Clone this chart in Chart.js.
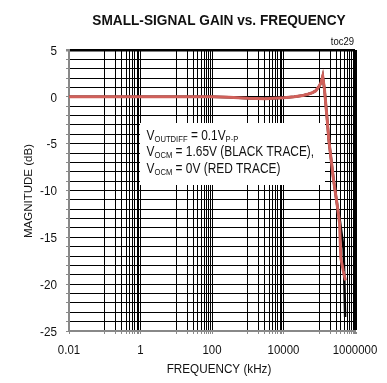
<!DOCTYPE html>
<html>
<head>
<meta charset="utf-8">
<script src="https://cdn.jsdelivr.net/npm/chart.js@4.4.1/dist/chart.umd.min.js"></script>
<style>
  html, body { margin: 0; padding: 0; background: #fff; }
  canvas { display: block; }
</style>
</head>
<body>
<canvas id="gainChart" width="387" height="383"></canvas>
<script>
// frequency in kHz, gain in dB
const redFreq = [0.01, 0.1, 1, 10, 100, 300, 1000, 3000, 10000, 20000, 35000, 50000, 65000, 80000, 100000, 112000, 125000, 140000, 168000, 185000, 250000, 330000, 370000, 400000, 470000, 540000];
const redGain = [0, 0, 0, 0, 0, -0.05, -0.15, -0.2, -0.1, 0, 0.15, 0.3, 0.45, 0.65, 1.15, 1.5, 2.2, 0.8, -2.6, -4.6, -8.8, -12.0, -13.5, -17.2, -18.6, -19.6];

const blackFreq = [0.01, 0.1, 1, 10, 100, 300, 1000, 3000, 10000, 20000, 35000, 50000, 65000, 80000, 100000, 112000, 125000, 140000, 168000, 185000, 250000, 330000, 370000, 480000, 530000];
const blackGain = [0, 0, 0, 0, 0, -0.05, -0.15, -0.2, -0.1, 0, 0.15, 0.3, 0.45, 0.65, 1.15, 1.5, 2.2, 0.8, -2.6, -4.6, -8.8, -12.0, -13.0, -16.2, -23.5];

const xTickLabels = ['0.01', '1', '100', '10000', '1000000'];
const yTickLabels = ['5', '0', '-5', '-10', '-15', '-20', '-25'];

const chartTitle = 'SMALL-SIGNAL GAIN vs. FREQUENCY';
const xTitle = 'FREQUENCY (kHz)';
const yTitle = 'MAGNITUDE (dB)';
const tocLabel = 'toc29';

// legend lines: [text, isSubscript]
const noteLines = [
  [['V', false], ['OUTDIFF', true], [' = 0.1V', false], ['P-P', true]],
  [['V', false], ['OCM', true], [' = 1.65V (BLACK TRACE),', false]],
  [['V', false], ['OCM', true], [' = 0V (RED TRACE)', false]]
];

const FONT = "'Liberation Sans', Arial, sans-serif";

// grid lines: every other decade carries the 2..9 minor lines
const gridValues = [];
for (let e = -2; e < 6; e += 2) {
  gridValues.push(Math.pow(10, e));
  for (let m = 1; m <= 9; m++) gridValues.push(m * Math.pow(10, e + 1));
}
gridValues.push(1e6);

function toPoints(xs, ys) {
  return xs.map((x, i) => ({ x: x, y: ys[i] }));
}

function drawText(ctx, s, x, y, font, align, sx) {
  ctx.save();
  ctx.translate(x, y);
  ctx.scale(sx, 1);
  ctx.font = font;
  ctx.textAlign = align;
  ctx.textBaseline = 'alphabetic';
  ctx.fillStyle = '#111';
  ctx.fillText(s, 0, 0);
  ctx.restore();
}

const textPlugin = {
  id: 'textPlugin',
  beforeDraw(chart) {
    const ctx = chart.ctx;
    ctx.save();
    ctx.fillStyle = '#fff';
    ctx.fillRect(0, 0, chart.width, chart.height);
    ctx.restore();
  },
  beforeDatasetsDraw(chart) {
    const ctx = chart.ctx;
    // white note box over the grid
    ctx.save();
    ctx.fillStyle = '#fff';
    ctx.fillRect(140, 123, 185, 62);
    ctx.restore();

    let y = 140;
    noteLines.forEach(line => {
      let x = 146.5;
      line.forEach(([t, sub]) => {
        ctx.save();
        ctx.font = sub ? `9px ${FONT}` : `14px ${FONT}`;
        const w = ctx.measureText(t).width * 0.85;
        ctx.restore();
        drawText(ctx, t, x, sub ? y + 2 : y, sub ? `9px ${FONT}` : `14px ${FONT}`, 'left', 0.85);
        x += w;
      });
      y += 16.3;
    });
  },
  afterDraw(chart) {
    const ctx = chart.ctx;
    const xs = chart.scales.x;
    const ys = chart.scales.y;

    drawText(ctx, chartTitle, 219, 25, `bold 15px ${FONT}`, 'center', 0.91);
    drawText(ctx, tocLabel, 354, 45, `10px ${FONT}`, 'right', 0.95);

    xTickLabels.forEach(l => {
      drawText(ctx, l, xs.getPixelForValue(Number(l)), 354, `13px ${FONT}`, 'center', 0.88);
    });
    yTickLabels.forEach(l => {
      drawText(ctx, l, 57, ys.getPixelForValue(Number(l)) + 4.7, `13px ${FONT}`, 'right', 0.9);
    });

    drawText(ctx, xTitle, 219, 372.5, `13px ${FONT}`, 'center', 0.9);

    ctx.save();
    ctx.translate(32, 191);
    ctx.rotate(-Math.PI / 2);
    ctx.font = `11.5px ${FONT}`;
    ctx.textAlign = 'center';
    ctx.fillStyle = '#111';
    ctx.fillText(yTitle, 0, 0);
    ctx.restore();
  }
};

new Chart(document.getElementById('gainChart'), {
  type: 'line',
  data: {
    datasets: [
      {
        label: 'VOCM = 0V',
        data: toPoints(redFreq, redGain),
        borderColor: '#d0605a',
        borderWidth: 3,
        pointRadius: 0,
        tension: 0
      },
      {
        label: 'VOCM = 1.65V',
        data: toPoints(blackFreq, blackGain),
        borderColor: '#000',
        borderWidth: 2.5,
        pointRadius: 0,
        tension: 0
      }
    ]
  },
  options: {
    responsive: false,
    animation: false,
    layout: {
      padding: { left: 0, top: 50, right: 32, bottom: 0 }
    },
    plugins: {
      legend: { display: false },
      tooltip: { enabled: false },
      title: { display: false }
    },
    scales: {
      x: {
        type: 'logarithmic',
        min: 0.01,
        max: 1e6,
        afterBuildTicks: scale => {
          scale.ticks = gridValues.map(v => ({ value: v }));
        },
        afterFit: scale => { scale.height = 52; },
        ticks: { display: false, autoSkip: false },
        grid: {
          color: '#000',
          lineWidth: c => (c.tick && c.tick.value === 1e6 ? 3 : 1),
          drawTicks: true,
          tickLength: 3,
          tickColor: '#888'
        },
        border: { color: '#888', width: 2 }
      },
      y: {
        min: -25,
        max: 5,
        afterFit: scale => { scale.width = 69; },
        ticks: { display: false, stepSize: 1, autoSkip: false },
        grid: {
          color: '#000',
          lineWidth: c => (c.tick && c.tick.value === 5 ? 2.5 : 1),
          drawTicks: true,
          tickLength: 3,
          tickColor: '#888'
        },
        border: { color: '#888', width: 2 }
      }
    }
  },
  plugins: [textPlugin]
});
</script>
</body>
</html>
